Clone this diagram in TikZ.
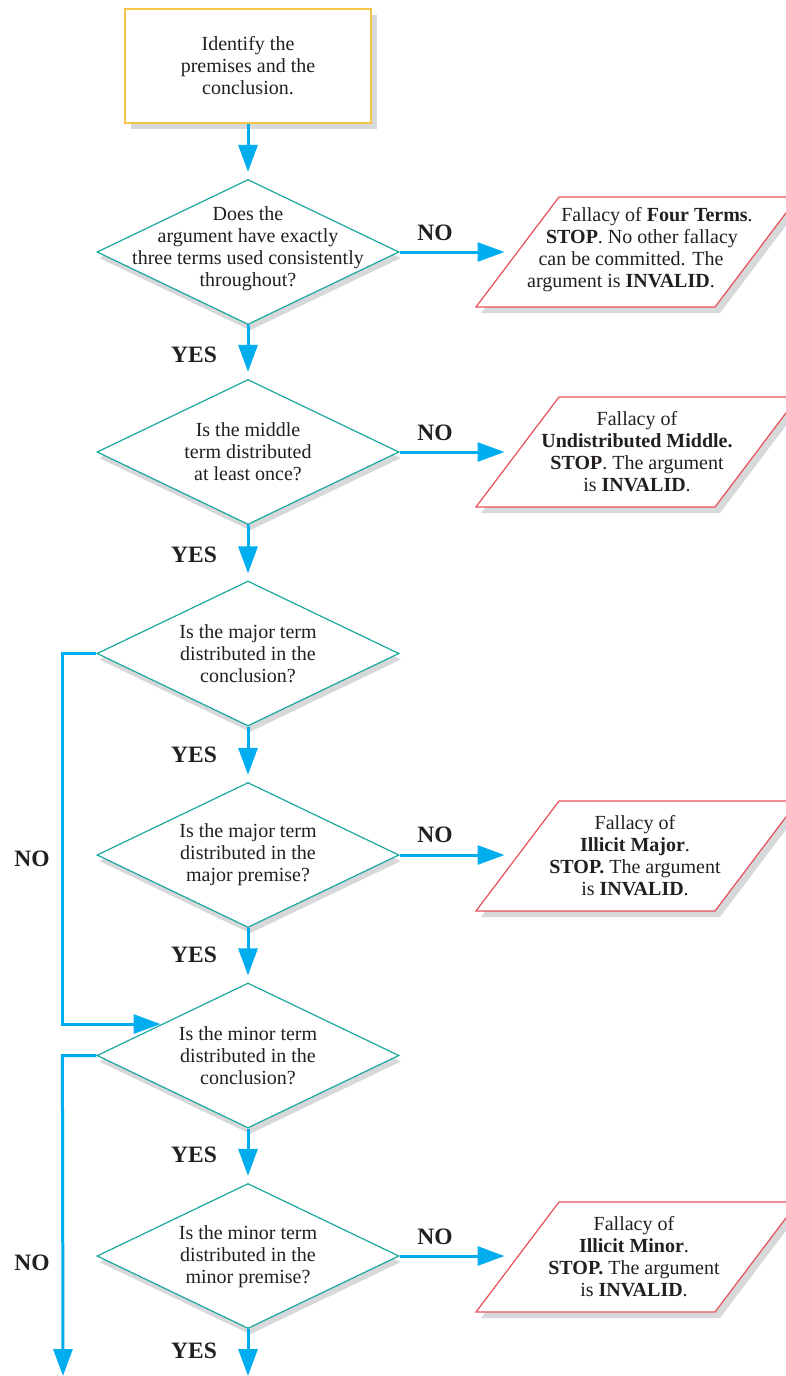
\documentclass[tikz,border=0pt]{standalone}
\usepackage{fontspec}
\setmainfont{Liberation Serif}
\usetikzlibrary{shapes.geometric,arrows.meta,shadows,calc}
\definecolor{arrowc}{HTML}{00AEEF}
\definecolor{tealc}{HTML}{1AA99F}
\definecolor{redc}{HTML}{E8505B}
\definecolor{yellowc}{HTML}{F8C44A}
\definecolor{shadowc}{HTML}{D7D8DA}
\definecolor{textc}{HTML}{231F20}
\newcommand{\shiftedline}[2]{\makebox[0pt]{\hspace*{#1}#2}}
% parallelogram drawn around a named centre coordinate
\newcommand{\fallacyshape}[1]{%
  \fill[shadowc] ($(#1)+(-156,61)$) -- ++(239,0) -- ++(83,-110) -- ++(-239,0) -- cycle;
  \draw[falline] ($(#1)+(-161,55)$) -- ++(239,0) -- ++(83,-110) -- ++(-239,0) -- cycle;
  \coordinate (#1w) at ($(#1)+(-119.5,0)$);}
\begin{document}
\begin{tikzpicture}[x=1pt,y=-1pt,
  font=\fontsize{20}{22}\selectfont, text=textc,
  task/.style={rectangle, draw=yellowc, line width=1.2pt, fill=white,
    minimum width=246pt, minimum height=114pt, align=center, inner sep=0,
    drop shadow={shadow xshift=6pt, shadow yshift=-6pt, fill=shadowc, opacity=1}},
  decision/.style={diamond, draw=tealc, line width=1.2pt, fill=white,
    minimum width=302pt, minimum height=145pt, inner sep=0,
    drop shadow={shadow xshift=2pt, shadow yshift=-6pt, fill=shadowc, opacity=1}},
  dtext/.style={align=center, inner sep=0},
  falline/.style={draw=redc, line width=1.2pt, fill=white},
  ftext/.style={align=center, inner sep=0},
  arr/.style={draw=arrowc, line width=3pt, -{Triangle[length=27pt,width=19pt]}},
  lab/.style={font=\fontsize{23.5}{26}\selectfont\bfseries, inner sep=0}
]
\useasboundingbox (0,0) rectangle (786,1376);

% start box
\node[task] (start) at (248,66) {Identify the\\premises and the\\conclusion.};

% decisions
\node[decision] (d1) at (248,252) {};
\node[dtext] (t1) at (248,249) {Does the\\argument have exactly\\three terms used consistently\\throughout?};
\node[decision] (d2) at (248,452) {};
\node[dtext] (t2) at (248,452) {Is the middle\\term distributed\\at least once?};
\node[decision] (d3) at (248,653.5) {};
\node[dtext] (t3) at (248,654) {Is the major term\\distributed in the\\conclusion?};
\node[decision] (d4) at (248,855) {};
\node[dtext] (t4) at (248,855) {Is the major term\\distributed in the\\major premise?};
\node[decision] (d5) at (248,1055.5) {};
\node[dtext] (t5) at (248,1056) {Is the minor term\\distributed in the\\conclusion?};
\node[decision] (d6) at (248,1256) {};
\node[dtext] (t6) at (248,1257) {Is the minor term\\distributed in the\\minor premise?};

% fallacies
\coordinate (p1) at (637,252);
\coordinate (p2) at (637,452);
\coordinate (p3) at (637,856);
\coordinate (p4) at (637,1257);
\fallacyshape{p1}
\fallacyshape{p2}
\fallacyshape{p3}
\fallacyshape{p4}
\node[ftext] (f1) at (637,250) {%
  \shiftedline{40pt}{Fallacy of \textbf{Four Terms}.}\\
  \shiftedline{10pt}{\textbf{STOP}. No other fallacy}\\
  \shiftedline{-12pt}{can be committed. The}\\
  \shiftedline{-32pt}{argument is \textbf{INVALID}.}};
\node[ftext] (f2) at (637,452) {Fallacy of\\\textbf{Undistributed Middle.}\\\textbf{STOP}. The argument\\is \textbf{INVALID}.};
\node[ftext] (f3) at (635,856) {Fallacy of\\\textbf{Illicit Major}.\\\textbf{STOP.} The argument\\is \textbf{INVALID}.};
\node[ftext] (f4) at (634,1257) {Fallacy of\\\textbf{Illicit Minor}.\\\textbf{STOP.} The argument\\is \textbf{INVALID}.};

% labels
\node[lab] (no1) at (435,233) {NO};
\node[lab] (no2) at (435,433) {NO};
\node[lab] (no3) at (435,835) {NO};
\node[lab] (no4) at (435,1237) {NO};
\node[lab] (no5) at (32,859) {NO};
\node[lab] (no6) at (32,1263) {NO};
\node[lab] (yes1) at (194,355) {YES};
\node[lab] (yes2) at (194,555) {YES};
\node[lab] (yes3) at (194,755) {YES};
\node[lab] (yes4) at (194,955) {YES};
\node[lab] (yes5) at (194,1155) {YES};
\node[lab] (yes6) at (194,1351) {YES};

\coordinate (out1) at (63,1376);
\coordinate (out2) at (248,1376);
\coordinate (in5) at ($(d5.west)!0.43!(d5.north)$);

% connectors
\draw[arr, shorten >=7pt] (start) -- (d1);
\draw[arr, shorten >=7pt] (d1) -- (d2);
\draw[arr, shorten >=7pt] (d2) -- (d3);
\draw[arr, shorten >=7pt] (d3) -- (d4);
\draw[arr, shorten >=7pt] (d4) -- (d5);
\draw[arr, shorten >=7pt] (d5) -- (d6);
\draw[arr] (d6) -- (out2);

\draw[arr, shorten >=13pt] (d1.east) -- (p1w);
\draw[arr, shorten >=13pt] (d2.east) -- (p2w);
\draw[arr, shorten >=13pt] (d4.east) -- (d4.east -| p3w);
\draw[arr, shorten >=13pt] (d6.east) -- (d6.east -| p4w);

\draw[arr, shorten >=1pt] (d3.west) -- ++(-34,0) |- (in5);
\draw[arr] (d5.west) -- ++(-34,0) -- (out1);
\end{tikzpicture}
\end{document}
